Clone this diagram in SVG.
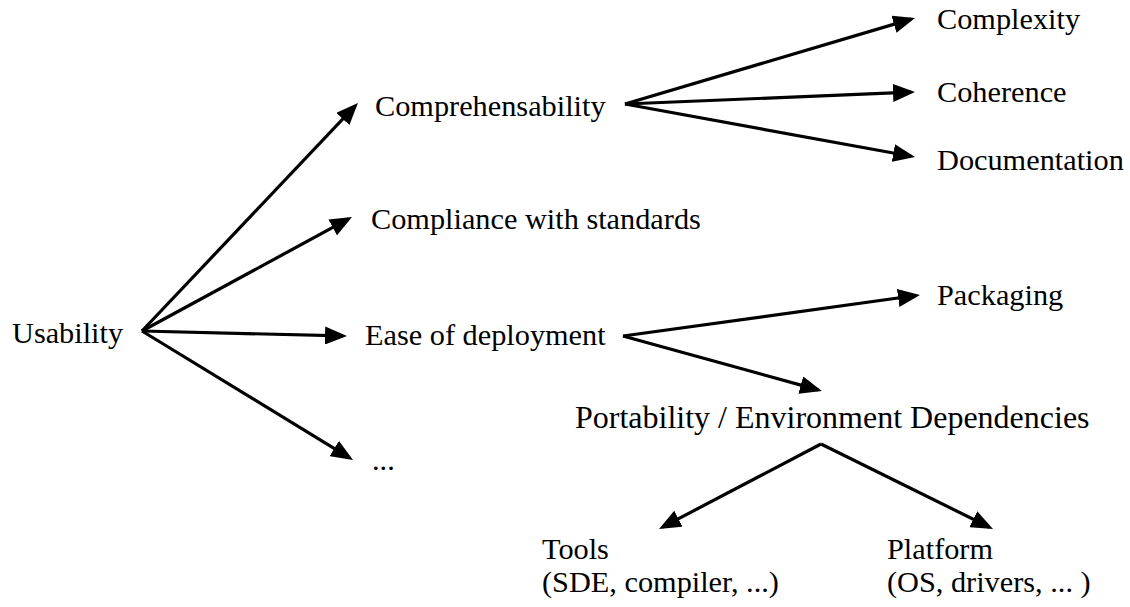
<svg xmlns="http://www.w3.org/2000/svg" width="1130" height="607" viewBox="0 0 1130 607">
  <defs>
    <style>
      .lbl { font-family: "Liberation Serif", "Times New Roman", serif; font-size: 30.3px; fill: #000; }
      .big { font-size: 32px; }
      .edge { stroke: #000; stroke-width: 3.2; fill: none; marker-end: url(#head); }
    </style>
    <!-- filled triangular arrowhead; tip sits 4px past the line end -->
    <marker id="head" markerUnits="userSpaceOnUse" markerWidth="22" markerHeight="18" viewBox="0 0 22 18" refX="18" refY="9" orient="auto">
      <path d="M0,0 L22,9 L0,18 Z" fill="#000"/>
    </marker>
  </defs>
  <rect width="1130" height="607" fill="#fff"/>

  <g id="connectors">
    <line class="edge" x1="142" y1="331" x2="355.2" y2="105.9"/>
    <line class="edge" x1="142" y1="331" x2="348.5" y2="218.9"/>
    <line class="edge" x1="142" y1="331" x2="343" y2="335.9"/>
    <line class="edge" x1="142" y1="331" x2="349.6" y2="457.9"/>
    <line class="edge" x1="625" y1="104" x2="911.2" y2="19.1"/>
    <line class="edge" x1="625" y1="104" x2="911" y2="92.2"/>
    <line class="edge" x1="625" y1="104" x2="911.1" y2="156.3"/>
    <line class="edge" x1="623" y1="336" x2="916" y2="295.5"/>
    <line class="edge" x1="623" y1="336" x2="818.1" y2="389.9"/>
    <line class="edge" x1="821" y1="444" x2="662.5" y2="527.1"/>
    <line class="edge" x1="821" y1="444" x2="989.4" y2="527.2"/>
  </g>

  <g id="usability"><text class="lbl" x="12" y="343">Usability</text></g>
  <g id="comprehensability"><text class="lbl" x="375" y="116">Comprehensability</text></g>
  <g id="compliance"><text class="lbl" x="371" y="229">Compliance with standards</text></g>
  <g id="deployment"><text class="lbl" x="365" y="345">Ease of deployment</text></g>
  <g id="more"><text class="lbl" x="372" y="470">...</text></g>
  <g id="complexity"><text class="lbl" x="937" y="29">Complexity</text></g>
  <g id="coherence"><text class="lbl" x="937" y="102">Coherence</text></g>
  <g id="documentation"><text class="lbl" x="937" y="170">Documentation</text></g>
  <g id="packaging"><text class="lbl" x="937" y="305">Packaging</text></g>
  <g id="portability"><text class="lbl big" x="575" y="428">Portability / Environment Dependencies</text></g>
  <g id="tools">
    <text class="lbl" x="542" y="559">Tools</text>
    <text class="lbl" x="542" y="592">(SDE, compiler, ...)</text>
  </g>
  <g id="platform">
    <text class="lbl" x="887" y="559">Platform</text>
    <text class="lbl" x="887" y="592">(OS, drivers, ... )</text>
  </g>
</svg>
